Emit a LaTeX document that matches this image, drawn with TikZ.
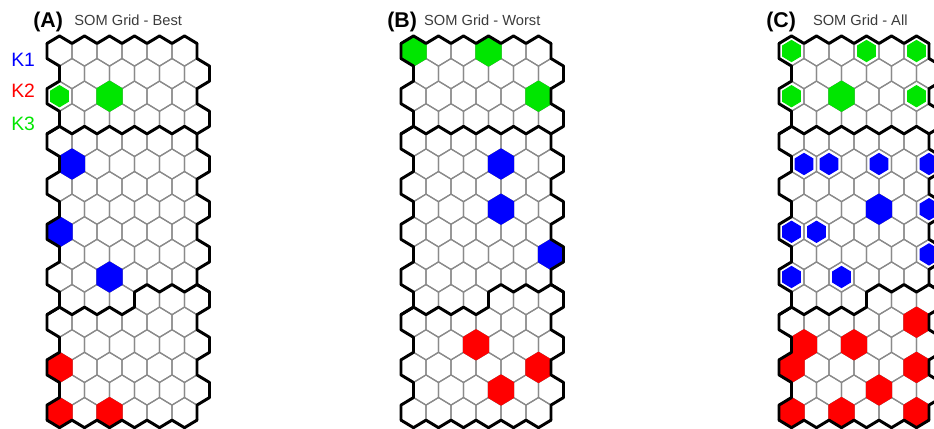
\documentclass[tikz,border=0pt]{standalone}
\usepackage{fontspec}
\setmainfont{Liberation Sans}
\usepackage{tikz}
\definecolor{SomGreen}{HTML}{00E600}
\definecolor{SomBlue}{HTML}{0000FF}
\definecolor{SomRed}{HTML}{FF0000}
\definecolor{GridGray}{HTML}{8A8A8A}
\definecolor{TitleGray}{HTML}{3C3C3C}

\tikzset{
  cellline/.style={draw=GridGray, line width=0.9pt},
  clusterline/.style={draw=black, line width=2.2pt, line join=round, line cap=round},
  panellabel/.style={font=\fontsize{16}{16}\selectfont\bfseries, inner sep=0pt, anchor=base west},
  paneltitle/.style={font=\fontsize{11}{11}\selectfont, text=TitleGray, inner sep=0pt, anchor=base},
  klabel/.style={font=\fontsize{14.5}{14.5}\selectfont, inner sep=0pt, anchor=base west}
}

% hexagon centred at (#1,#2), size factor #3
\newcommand{\hexcell}[3]{(#1,#2) ++(0,-15.07*#3) -- ++(12.5*#3,7.535*#3) -- ++(0,15.07*#3) -- ++(-12.5*#3,7.535*#3) -- ++(-12.5*#3,-7.535*#3) -- ++(0,-15.07*#3) -- cycle}

% 6 x 17 grid, left edge at #1
\newcommand{\somgrid}[1]{%
  \foreach \row in {0,...,16}{
    \foreach \col in {0,...,5}{
      \pgfmathsetmacro{\hx}{#1+12.5+25*\col+12.5*mod(\row,2)}
      \pgfmathsetmacro{\hy}{51+22.6*\row}
      \draw[cellline] \hexcell{\hx}{\hy}{1};
    }
  }
}

% filled cells row/col/size
\newcommand{\somcells}[3]{%
  \foreach \row/\col/\sz in {#3}{
    \pgfmathsetmacro{\hx}{#1+12.5+25*\col+12.5*mod(\row,2)}
    \pgfmathsetmacro{\hy}{51+22.6*\row}
    \fill[#2, draw=#2, line width=0.8pt] \hexcell{\hx}{\hy}{\sz};
  }
}

% outline and cluster borders
\newcommand{\somborders}[1]{%
  \draw[clusterline] (#1,43.465) \foreach \k in {1,...,12}{ -- ({#1+12.5*\k},{43.465-7.535*mod(\k,2)}) };
  \draw[clusterline] (#1,420.135) \foreach \k in {1,...,12}{ -- ({#1+12.5*\k},{420.135+7.535*mod(\k,2)}) };
  \draw[clusterline] (#1,43.465) \foreach \row in {0,...,16}{ -- ({#1+12.5*mod(\row,2)},{43.465+22.6*\row}) -- ({#1+12.5*mod(\row,2)},{58.535+22.6*\row}) };
  \draw[clusterline] ({#1+150},43.465) \foreach \row in {0,...,16}{ -- ({#1+150+12.5*mod(\row,2)},{43.465+22.6*\row}) -- ({#1+150+12.5*mod(\row,2)},{58.535+22.6*\row}) };
  % K3 / K1
  \draw[clusterline] (#1,133.865) \foreach \k in {1,...,12}{ -- ({#1+12.5*\k},{133.865-7.535*mod(\k,2)}) };
  % K1 / K2
  \draw[clusterline] (#1,314.665) \foreach \k in {1,...,7}{ -- ({#1+12.5*\k},{314.665-7.535*mod(\k,2)}) }
    \foreach \k in {7,...,13}{ -- ({#1+12.5*\k},{284.535+7.535*mod(\k,2)}) };
}

\begin{document}
\begin{tikzpicture}[x=0.75pt, y=-0.75pt]
  \fill[white] (0,0) rectangle (934,428);
  \clip (0,0) rectangle (934,428);

  % (A) best
  \somgrid{47}
  \somcells{47}{SomGreen}{2/0/0.7, 2/2/1}
  \somcells{47}{SomBlue}{5/0/1, 8/0/1, 10/2/1}
  \somcells{47}{SomRed}{14/0/1, 16/0/1, 16/2/1}
  \somborders{47}
  \node[panellabel] (labA) at (33,28) {(A)};
  \node[paneltitle] (titleA) at (128.25,26) {SOM Grid - Best};

  % (B) worst
  \somgrid{401}
  \somcells{401}{SomGreen}{0/0/1, 0/3/1, 2/5/1}
  \somcells{401}{SomBlue}{5/3/1, 7/3/1, 9/5/1}
  \somcells{401}{SomRed}{13/2/1, 14/5/1, 15/3/1}
  \somborders{401}
  \node[panellabel] (labB) at (387,28) {(B)};
  \node[paneltitle] (titleB) at (482.25,26) {SOM Grid - Worst};

  % (C) all
  \somgrid{779}
  \somcells{779}{SomGreen}{0/0/0.7, 0/3/0.7, 0/5/0.7, 2/0/0.7, 2/2/1, 2/5/0.7}
  \somcells{779}{SomBlue}{5/0/0.7, 5/1/0.7, 5/3/0.7, 5/5/0.7, 7/3/1, 7/5/0.7, 8/0/0.7, 8/1/0.7, 9/5/0.7, 10/0/0.7, 10/2/0.7}
  \somcells{779}{SomRed}{12/5/1, 13/0/1, 13/2/1, 14/0/1, 14/5/1, 15/3/1, 16/0/1, 16/2/1, 16/5/1}
  \somborders{779}
  \node[panellabel] (labC) at (766,28) {(C)};
  \node[paneltitle] (titleC) at (860.25,26) {SOM Grid - All};

  % legend
  \node[klabel, text=SomBlue] (kOne) at (11,66) {K1};
  \node[klabel, text=SomRed] (kTwo) at (11,98) {K2};
  \node[klabel, text=SomGreen] (kThree) at (11,130) {K3};
\end{tikzpicture}
\end{document}
